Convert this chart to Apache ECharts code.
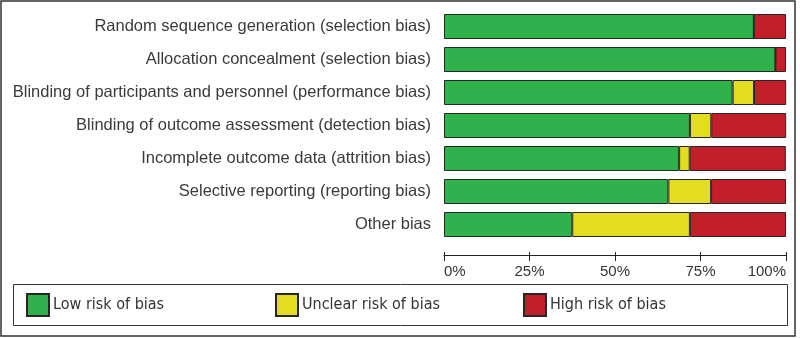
<!DOCTYPE html>
<html>
<head>
<meta charset="utf-8">
<script src="https://cdn.jsdelivr.net/npm/echarts@6/dist/echarts.min.js"></script>
<style>
  html, body { margin: 0; padding: 0; background: #fff; }
  #chart { width: 800px; height: 338px; }
</style>
</head>
<body>
<div id="chart"></div>
<script>
// risk of bias graph, % of studies per domain
var domains = [
  'Random sequence generation (selection bias)',
  'Allocation concealment (selection bias)',
  'Blinding of participants and personnel (performance bias)',
  'Blinding of outcome assessment (detection bias)',
  'Incomplete outcome data (attrition bias)',
  'Selective reporting (reporting bias)',
  'Other bias'
];
var lowRisk = [90.6, 96.9, 84.4, 71.9, 68.75, 65.6, 37.5];
var unclearRisk = [0, 0, 6.25, 6.25, 3.1, 12.5, 34.4];
var highRisk = [9.4, 3.1, 9.4, 21.9, 28.1, 21.9, 28.1];
var tickLabels = ['0%', '25%', '50%', '75%', '100%'];

var dom = document.getElementById('chart');
var myChart = echarts.init(dom);
var option;

var labelFont = 'Liberation Sans, Arial, sans-serif';
var narrowFont = 'Liberation Sans Narrow, DejaVu Sans Condensed, Liberation Sans, sans-serif';

function makeSeries(name, values, color) {
  return {
    name: name,
    type: 'bar',
    stack: 'rob',
    barWidth: 25,
    silent: true,
    data: values,
    itemStyle: { color: color, borderColor: '#262626', borderWidth: 1 }
  };
}

function makeLegend(name, left) {
  return {
    data: [name],
    left: left,
    top: 288,
    icon: 'rect',
    itemWidth: 22,
    itemHeight: 22,
    selectedMode: false,
    textStyle: { fontFamily: narrowFont, fontSize: 16, color: '#333', padding: [0, 0, 0, -1] }
  };
}

option = {
  animation: false,
  backgroundColor: '#fff',
  grid: { left: 444, right: 14, top: 10, height: 231 },
  xAxis: [
    {
      type: 'value',
      min: 0,
      max: 100,
      interval: 25,
      offset: 14,
      splitLine: { show: false },
      axisLine: { show: true, lineStyle: { color: '#222', width: 1 } },
      axisTick: { show: true, length: 6, lineStyle: { color: '#222' } },
      axisLabel: {
        margin: 9,
        color: '#333',
        fontFamily: labelFont,
        fontSize: 15,
        alignMinLabel: 'left',
        alignMaxLabel: 'right',
        formatter: function (v) { return tickLabels[v / 25]; }
      }
    },
    {
      type: 'value',
      min: 0,
      max: 100,
      interval: 25,
      position: 'bottom',
      offset: 14,
      splitLine: { show: false },
      axisLine: { show: false },
      axisTick: { show: true, inside: true, length: 3, lineStyle: { color: '#222' } },
      axisLabel: { show: false }
    }
  ],
  yAxis: {
    type: 'category',
    data: domains,
    inverse: true,
    axisLine: { show: false },
    axisTick: { show: false },
    axisLabel: {
      margin: 13,
      color: '#3a3a3a',
      fontFamily: labelFont,
      fontSize: 16.5
    }
  },
  legend: [
    makeLegend('Low risk of bias', 21),
    makeLegend('Unclear risk of bias', 270),
    makeLegend('High risk of bias', 518)
  ],
  series: [
    makeSeries('Low risk of bias', lowRisk, '#2fb24b'),
    makeSeries('Unclear risk of bias', unclearRisk, '#e3dd21'),
    makeSeries('High risk of bias', highRisk, '#c31f2a')
  ],
  graphic: [
    {
      type: 'rect',
      shape: { x: 1, y: 1, width: 794, height: 335 },
      style: { fill: 'none', stroke: '#333', lineWidth: 1.5 },
      silent: true
    },
    {
      type: 'rect',
      shape: { x: 13.5, y: 284.5, width: 774, height: 41 },
      style: { fill: 'none', stroke: '#333', lineWidth: 1 },
      silent: true
    }
  ]
};

if (option && typeof option === 'object') {
  myChart.setOption(option);
}
</script>
</body>
</html>
